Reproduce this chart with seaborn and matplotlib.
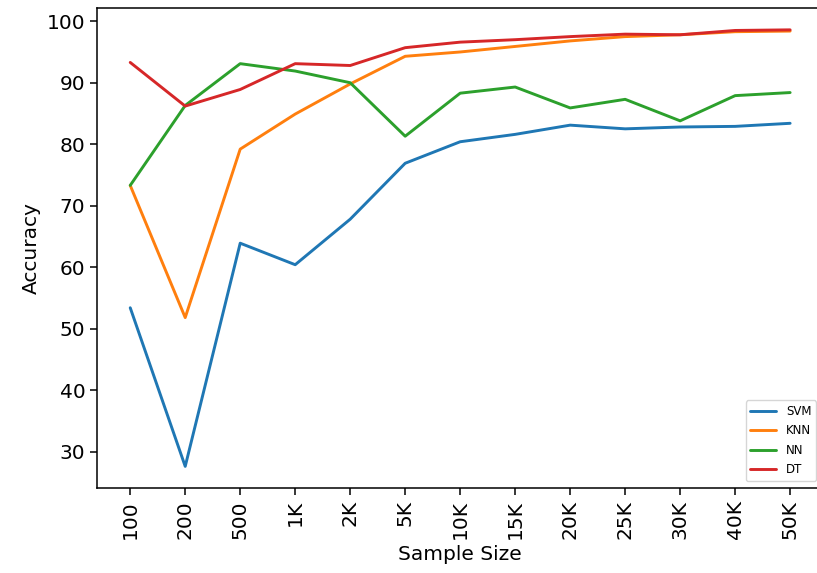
import matplotlib
matplotlib.use("Agg")
import matplotlib.pyplot as plt
import seaborn as sns
import pandas as pd

sample_sizes = ["100", "200", "500", "1K", "2K", "5K", "10K", "15K", "20K", "25K", "30K", "40K", "50K"]
svm = [53.4, 27.6, 63.9, 60.4, 67.8, 76.9, 80.4, 81.6, 83.1, 82.5, 82.8, 82.9, 83.4]
knn = [73.3, 51.8, 79.2, 84.9, 89.8, 94.3, 95.0, 95.9, 96.8, 97.5, 97.8, 98.3, 98.4]
nn = [73.3, 86.3, 93.1, 91.9, 90.0, 81.3, 88.3, 89.3, 85.9, 87.3, 83.8, 87.9, 88.4]
dt = [93.3, 86.2, 88.9, 93.1, 92.8, 95.7, 96.6, 97.0, 97.5, 97.9, 97.8, 98.5, 98.6]

models = {"SVM": svm, "KNN": knn, "NN": nn, "DT": dt}
df = pd.concat(
    [pd.DataFrame({"Sample Size": sample_sizes, "Accuracy": vals, "Model": name})
     for name, vals in models.items()],
    ignore_index=True,
)

sns.set_style("ticks")
plt.rcParams["font.family"] = ["DejaVu Sans"]
plt.rcParams["text.color"] = "black"
plt.rcParams["axes.labelcolor"] = "black"
plt.rcParams["xtick.color"] = "black"
plt.rcParams["ytick.color"] = "black"

fig, ax = plt.subplots(figsize=(8.17, 5.73), dpi=100)
# the plot area runs slightly past the right edge of the canvas
fig.subplots_adjust(left=0.119, right=1.0075, top=0.986, bottom=0.148)

sns.lineplot(data=df, x="Sample Size", y="Accuracy", hue="Model",
             palette=["#1f77b4", "#ff7f0e", "#2ca02c", "#d62728"],
             linewidth=2.1, sort=False, ax=ax)

n = len(sample_sizes)
ax.set_xlim(-0.05 * (n - 1), (n - 1) * 1.05)
ax.set_xlabel("Sample Size", fontsize=14.5)
ax.set_ylabel("Accuracy", fontsize=14.5)
ax.tick_params(axis="both", labelsize=14.5, length=5, width=1.1, direction="out")
ax.tick_params(axis="x", labelrotation=90)
for sp in ax.spines.values():
    sp.set_linewidth(1.1)
    sp.set_color("black")
    sp.set_visible(True)

handles, labels = ax.get_legend_handles_labels()
ax.legend(handles, labels, loc="lower right", fontsize=8.5,
          handlelength=2.2, labelspacing=0.55, borderaxespad=0.6)

fig.savefig("out.png", dpi=100)
